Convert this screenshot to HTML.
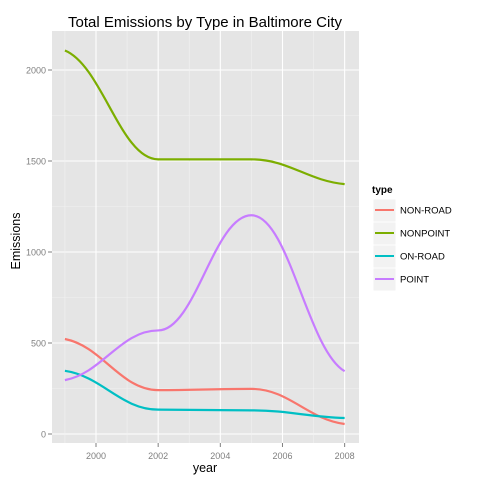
<!DOCTYPE html>
<html><head><meta charset="utf-8"><style>
body{margin:0;background:#fff;font-family:"Liberation Sans",sans-serif}
</style></head><body>
<svg id="c" width="480" height="480" xmlns="http://www.w3.org/2000/svg">
<text x="205" y="27" font-size="15" text-anchor="middle">Total Emissions by Type in Baltimore City</text>
<rect x="52" y="31" width="307" height="412" fill="#e5e5e5"/>
<g id="grid"></g><g id="series"></g><g id="axes"></g>
<text x="205" y="472" font-size="12.5" text-anchor="middle">year</text>
<text transform="translate(20,241) rotate(-90)" font-size="12.5" text-anchor="middle">Emissions</text>
<text x="372" y="193" font-size="10" font-weight="bold">type</text>
<g id="legend"></g>
</svg>
<script>
const years=[1999,2002,2005,2008];
const types=["NON-ROAD","NONPOINT","ON-ROAD","POINT"];
const colors=["#f8766d","#7cae00","#00bfc4","#c77cff"];
const nonRoad=[522,241,248,55];
const nonPoint=[2107,1509,1509,1373];
const onRoad=[347,134,130,88];
const point=[296,569,1202,345];
const yTicks=[0,500,1000,1500,2000];
const xTicks=[2000,2002,2004,2006,2008];
const series=[nonRoad,nonPoint,onRoad,point];
const NS="http://www.w3.org/2000/svg";
const X=v=>96+(v-2000)*31.08, Y=v=>434-v*0.182;
function mk(t,a,p){const e=document.createElementNS(NS,t);for(const k in a)e.setAttribute(k,a[k]);document.getElementById(p).appendChild(e);return e;}
for(let i=0;i<yTicks.length;i++){const v=yTicks[i];
 if(i<yTicks.length-1){const m=(v+yTicks[i+1])/2;const g=mk('line',{x1:52,x2:359,y1:Y(m),y2:Y(m),stroke:'#f2f2f2','stroke-width':0.6},'grid');}
 const l=mk('line',{x1:52,x2:359,y1:Y(v),y2:Y(v),stroke:'#fff','stroke-width':1.1},'grid');
 
 mk('line',{x1:48,x2:52,y1:Y(v),y2:Y(v),stroke:'#7f7f7f'},'axes');
 const t=mk('text',{x:46,y:Y(v)+3.5,'font-size':9,fill:'#7f7f7f','text-anchor':'end'},'axes');t.textContent=v;
 }
for(let i=0;i<xTicks.length;i++){const v=xTicks[i];
 const m=v-1;const g=mk('line',{x1:X(m),x2:X(m),y1:31,y2:443,stroke:'#f2f2f2','stroke-width':0.6},'grid');
 const l=mk('line',{x1:X(v),x2:X(v),y1:31,y2:443,stroke:'#fff','stroke-width':1.1},'grid');
 
 mk('line',{x1:X(v),x2:X(v),y1:443,y2:447,stroke:'#7f7f7f'},'axes');
 const t=mk('text',{x:X(v),y:459,'font-size':9,fill:'#7f7f7f','text-anchor':'middle'},'axes');t.textContent=v;
 }
// cubic segments with flat tangents at knots (ease curves)
function path(xs,ys){let s='M'+xs[0]+','+ys[0];
 for(let i=0;i<xs.length-1;i++){const h=(xs[i+1]-xs[i])*0.4;
  const m0=(i===0)?(ys[1]-ys[0])/(xs[1]-xs[0])*0.35:0;
  const m1=(i===xs.length-2)?(ys[i+1]-ys[i])/(xs[i+1]-xs[i])*0.35:0;
  s+=' C'+(xs[i]+h)+','+(ys[i]+m0*h)+' '+(xs[i+1]-h)+','+(ys[i+1]-m1*h)+' '+xs[i+1]+','+ys[i+1];}
 return s;}
series.forEach((vals,k)=>{
 const p=mk('path',{d:path(years.map(X),vals.map(Y)),fill:'none',stroke:colors[k],'stroke-width':2.2},'series');
 
 
 const y=210+k*23;
 const r=mk('rect',{x:373,y:y-11,width:23,height:23,fill:'#f2f2f2',stroke:'#fff'},'legend');
 
 mk('line',{x1:375,x2:394,y1:y,y2:y,stroke:colors[k],'stroke-width':2},'legend');
 const t=mk('text',{x:400,y:y+3.5,'font-size':9.5},'legend');t.textContent=types[k];
 
});
</script>
</body></html>
